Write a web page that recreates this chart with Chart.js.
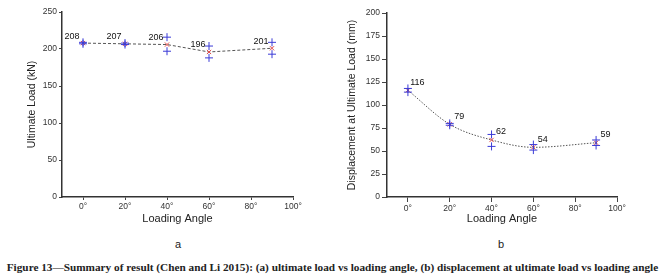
<!DOCTYPE html>
<html>
<head>
<meta charset="utf-8">
<script src="https://cdn.jsdelivr.net/npm/chart.js@4/dist/chart.umd.min.js"></script>
<style>
  body { margin: 0; background: #fff; width: 665px; height: 278px; overflow: hidden; position: relative; }
  .box { position: absolute; top: 0; height: 232px; }
  .sub { position: absolute; top: 238px; font: 11px "Liberation Sans", Arial, sans-serif; color: #222; }
  #caption { position: absolute; top: 261px; left: 0; width: 665px; text-align: center; white-space: nowrap;
    font: bold 11.25px "Liberation Serif", "Times New Roman", serif; color: #222; }
</style>
</head>
<body>
<div class="box" style="left:0;width:330px"><canvas id="chartA"></canvas></div>
<div class="box" style="left:330px;width:335px"><canvas id="chartB"></canvas></div>
<div class="sub" style="left:175px">a</div>
<div class="sub" style="left:498px">b</div>
<div id="caption">Figure 13—Summary of result (Chen and Li 2015): (a) ultimate load vs loading angle, (b) displacement at ultimate load vs loading angle</div>
<script>
var angles = [0, 20, 40, 60, 90];
var xTicks = [0, 20, 40, 60, 80, 100];

var loadMean = [208, 207, 206, 196, 201];
var loadHigh = [209, 208, 216, 204, 209];
var loadLow  = [207, 206, 197, 188, 193];

var dispMean = [116, 79, 62, 54, 59];
var dispHigh = [118, 80, 68, 57, 62];
var dispLow  = [114, 78, 55, 51, 56];

var sans = '"Liberation Sans", Arial, sans-serif';

function pts(vals) {
  return angles.map(function (a, i) { return { x: a, y: vals[i] }; });
}

// writes the mean value next to each mean marker
var valueLabels = {
  id: 'valueLabels',
  afterDatasetsDraw: function (chart, args, opts) {
    var ctx = chart.ctx;
    var meta = chart.getDatasetMeta(0);
    ctx.save();
    ctx.font = '9px ' + sans;
    ctx.fillStyle = '#111';
    ctx.textAlign = 'center';
    ctx.textBaseline = 'middle';
    meta.data.forEach(function (p, i) {
      ctx.fillText(chart.data.datasets[0].data[i].y, p.x + opts.dx, p.y + opts.dy);
    });
    ctx.restore();
  }
};

function makeChart(id, mean, high, low, o) {
  return new Chart(document.getElementById(id), {
    type: 'scatter',
    data: {
      datasets: [
        {
          data: pts(mean),
          showLine: true,
          borderColor: '#555',
          borderWidth: 1,
          borderDash: o.dash,
          cubicInterpolationMode: o.smooth ? 'monotone' : 'default',
          pointStyle: 'crossRot',
          pointRadius: 3,
          pointBorderColor: '#e04848',
          pointBackgroundColor: '#e04848',
          pointBorderWidth: 1,
          order: 2
        },
        {
          data: pts(high).concat(pts(low)),
          showLine: false,
          pointStyle: 'cross',
          pointRadius: 4,
          pointBorderColor: '#3b3bd6',
          pointBorderWidth: 1,
          order: 1
        }
      ]
    },
    options: {
      responsive: true,
      maintainAspectRatio: false,
      animation: false,
      layout: { padding: o.pad },
      plugins: {
        legend: { display: false },
        tooltip: { enabled: false },
        valueLabels: { dx: o.dx, dy: o.dy }
      },
      scales: {
        x: {
          min: -10, max: 100,
          afterBuildTicks: function (s) { s.ticks = xTicks.map(function (v) { return { value: v }; }); },
          afterFit: function (s) { s.height = 33; },
          grid: { drawOnChartArea: false, tickLength: o.tick, color: '#444' },
          border: { color: '#333', width: 1.5 },
          ticks: { font: { size: 8.5, family: sans }, color: '#333', padding: 2, maxRotation: 0,
                   callback: function (v) { return v + '°'; } },
          title: { display: true, text: 'Loading Angle', font: { size: 11, family: sans }, color: '#222',
                   padding: { top: 4, bottom: 4 } }
        },
        y: {
          min: 0, max: o.ymax,
          ticks: { stepSize: o.step, font: { size: 8.5, family: sans }, color: '#333', padding: 2 },
          afterFit: function (s) { s.width = o.yw; },
          grid: { drawOnChartArea: false, tickLength: o.tick, color: '#444' },
          border: { color: '#333', width: 1.5 },
          title: { display: true, text: o.ytitle, font: { size: 10.5, family: sans }, color: '#222',
                   padding: { top: 4, bottom: 4 } }
        }
      }
    },
    plugins: [valueLabels]
  });
}

makeChart('chartA', loadMean, loadHigh, loadLow, {
  ymax: 250, step: 50, ytitle: 'Ultimate Load (kN)', yw: 40, tick: 3,
  pad: { left: 22, top: 12, right: 37, bottom: 2 },
  dash: [3, 2], smooth: false, dx: -11, dy: -7
});

makeChart('chartB', dispMean, dispHigh, dispLow, {
  ymax: 200, step: 25, ytitle: 'Displacement at Ultimate Load (mm)', yw: 45, tick: 5,
  pad: { left: 12, top: 13, right: 48, bottom: 2 },
  dash: [1.5, 1.5], smooth: true, dx: 9.5, dy: -8
});
</script>
</body>
</html>
